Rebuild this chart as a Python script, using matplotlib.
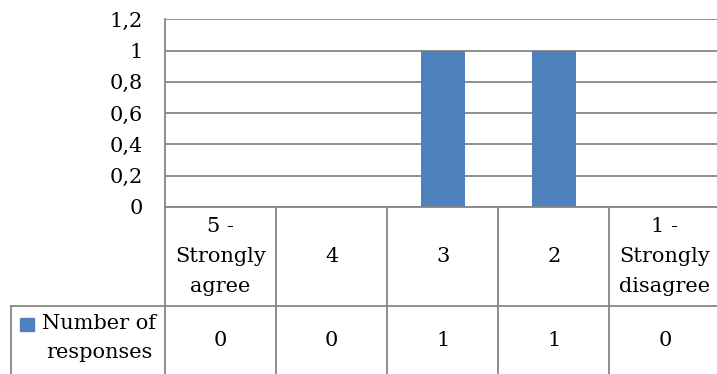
import matplotlib.pyplot as plt
from matplotlib.transforms import blended_transform_factory
from matplotlib.lines import Line2D
from matplotlib.patches import Rectangle

categories = ["5 -\nStrongly\nagree", "4", "3", "2", "1 -\nStrongly\ndisagree"]
responses = [0, 0, 1, 1, 0]
series_name = "Number of\nresponses"
yticks = [0, 0.2, 0.4, 0.6, 0.8, 1, 1.2]
ytick_labels = ["0", "0,2", "0,4", "0,6", "0,8", "1", "1,2"]

bar_color = "#4F81BD"
line_color = "#868686"
plt.rcParams['font.family'] = ['DejaVu Serif']
fs = 15

W, H = 717, 374
fig = plt.figure(figsize=(W / 100, H / 100), dpi=100)

# plot area in pixels (the last column runs a bit past the right edge)
x0, x1 = 165, 720.5
ytop, ybot = 19.3, 207
ax = fig.add_axes([x0 / W, 1 - ybot / H, (x1 - x0) / W, (ybot - ytop) / H])

xs = list(range(len(categories)))
ax.bar(xs, responses, width=0.4, color=bar_color, zorder=3)
ax.set_xlim(-0.5, len(categories) - 0.5)
ax.set_ylim(0, 1.2)
ax.set_yticks(yticks)
ax.set_yticklabels(ytick_labels, fontsize=fs)
ax.tick_params(axis='y', length=0, pad=16)
ax.set_xticks([])
ax.grid(axis='y', color=line_color, linewidth=1.3, zorder=1)
for s in ["top", "right", "bottom"]:
    ax.spines[s].set_visible(False)
ax.spines["left"].set_color(line_color)
ax.spines["left"].set_linewidth(1.3)
ax.spines["left"].set_zorder(4)

# data table below the axis
tr = blended_transform_factory(ax.transData, fig.transFigure)
trf = fig.transFigure
y_head_top = 1 - ybot / H
y_head_bot = 1 - 306 / H
y_row_bot = 1 - 376 / H
y_head_mid = (y_head_top + y_head_bot) / 2
y_row_mid = (y_head_bot + y_row_bot) / 2

def hline(xa, xb, y, trans):
    fig.add_artist(Line2D([xa, xb], [y, y], transform=trans, color=line_color, lw=1.3))

def vline(x, ya, yb, trans):
    fig.add_artist(Line2D([x, x], [ya, yb], transform=trans, color=line_color, lw=1.3))

left_cell = 11 / W
hline(left_cell, 1.1, y_head_bot, trf)
hline(-0.5, len(categories) - 0.5, y_head_top, tr)
vline(left_cell, y_head_bot, y_row_bot, trf)
for i in range(len(categories) + 1):
    vline(i - 0.5, y_head_top, y_row_bot, tr)

for i, (cat, val) in enumerate(zip(categories, responses)):
    fig.text(i, y_head_mid, cat, transform=tr, ha="center", va="center",
             fontsize=fs, linespacing=1.7)
    fig.text(i, y_row_mid, str(val), transform=tr, ha="center", va="center",
             fontsize=fs)

# legend key cell
fig.add_artist(Rectangle((20 / W, 1 - 331 / H), 14 / W, 13 / H,
                         transform=trf, color=bar_color))
fig.text(99 / W, 1 - 338 / H, series_name, transform=trf, ha="center",
         va="center", fontsize=fs, linespacing=1.7)

fig.savefig("out.png", dpi=100)
